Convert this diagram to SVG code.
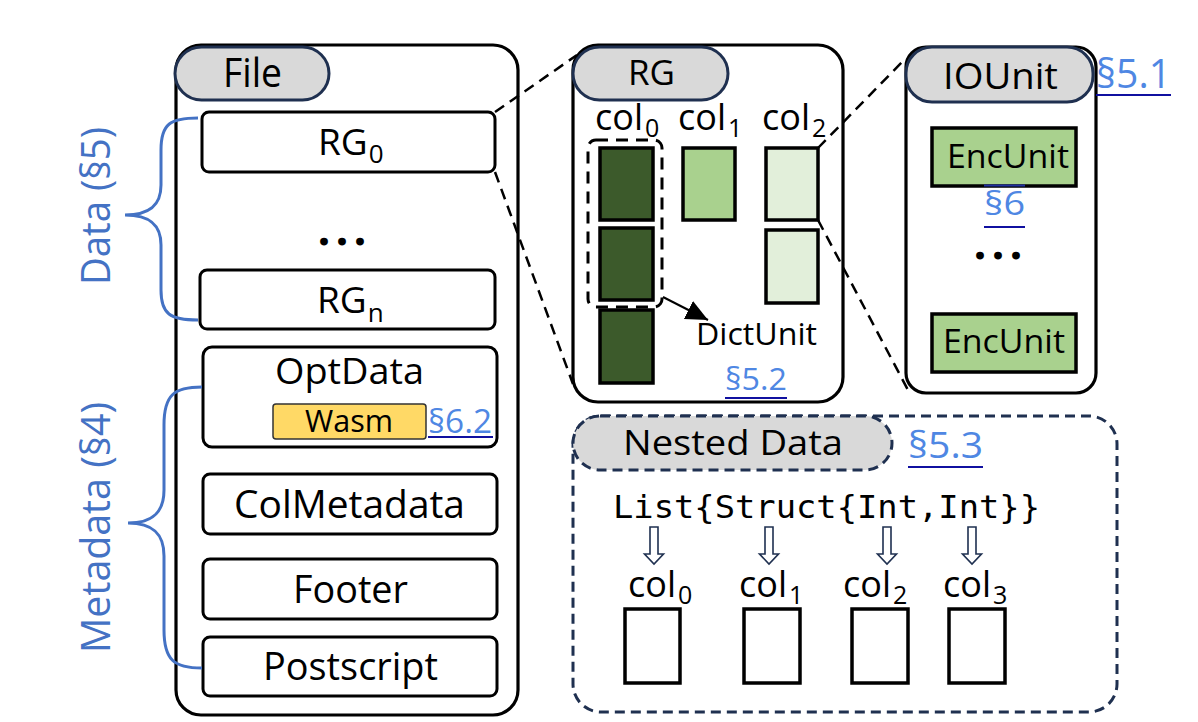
<svg xmlns="http://www.w3.org/2000/svg" width="1198" height="722" viewBox="0 0 1198 722">
<defs>
<style>
.t{font-family:"Open Sans","Noto Sans",sans-serif;fill:#000}
.dots{font-family:"Open Sans","Noto Sans",sans-serif;fill:#000;stroke:#000;stroke-width:3;font-weight:bold;font-size:28px;letter-spacing:10px}
.box{fill:#fff;stroke:#000;stroke-width:3}
.outer{fill:#fff;stroke:#000;stroke-width:3.2}
.pill{fill:#d9d9d9;stroke:#1f3050;stroke-width:3}
.dash{fill:none;stroke:#000;stroke-width:2.5;stroke-dasharray:11 7}
.link{font-family:"Open Sans","Noto Sans",sans-serif;fill:#4f87e3}
.ul{stroke:#1010a0;stroke-width:2}
.blue{fill:#4472c4;font-family:"Open Sans","Noto Sans",sans-serif}
.brace{fill:none;stroke:#4472c4;stroke-width:3}
.dk{fill:#3c5a2b;stroke:#000;stroke-width:3.5}
.md{fill:#a9d18e;stroke:#000;stroke-width:3.5}
.lt{fill:#e2efda;stroke:#000;stroke-width:3.5}
.col{fill:#fff;stroke:#000;stroke-width:3.5}
.harrow{fill:#fff;stroke:#1f3050;stroke-width:1.6}
</style>
<marker id="tri" markerUnits="userSpaceOnUse" markerWidth="24" markerHeight="22" refX="22" refY="10" orient="auto">
<path d="M0,0 L22,10 L0,20 Z" fill="#000"/>
</marker>
<path id="downArrow" d="M-4,0 H4 V27 H9.5 L0,37 L-9.5,27 H-4 Z"/>
</defs>

<g id="file">
<rect class="outer" x="176" y="45" width="342" height="670" rx="25"/>
<rect class="pill" x="175" y="47" width="154" height="53" rx="26.5"/>
<text class="t" x="223" y="87" font-size="40" textLength="59" lengthAdjust="spacingAndGlyphs">File</text>
</g>

<g id="rg0">
<rect class="box" x="202" y="112" width="293" height="60" rx="7"/>
<text class="t" x="318" y="155" font-size="37">RG<tspan font-size="26" dx="1" dy="8">0</tspan></text>
</g>
<g id="ellipsis-file">
<text class="dots" x="347" y="244" text-anchor="middle">...</text>
</g>
<g id="rgn">
<rect class="box" x="200" y="270" width="295" height="59" rx="7"/>
<text class="t" x="317" y="313" font-size="37">RG<tspan font-size="26" dx="1" dy="9">n</tspan></text>
</g>
<g id="optdata">
<rect class="box" x="203" y="347" width="294" height="100" rx="9"/>
<text class="t" x="275" y="384" font-size="37" textLength="149" lengthAdjust="spacingAndGlyphs">OptData</text>
<rect x="273" y="404" width="153" height="35" rx="3" fill="#ffd966" stroke="#333" stroke-width="1.5"/>
<text class="t" x="305" y="432" font-size="31" textLength="88" lengthAdjust="spacingAndGlyphs">Wasm</text>
<text class="link" x="428" y="433" font-size="32" textLength="64" lengthAdjust="spacingAndGlyphs">§6.2</text>
<line class="ul" x1="428" y1="437" x2="493" y2="437"/>
</g>
<g id="colmetadata">
<rect class="box" x="203" y="474" width="294" height="60" rx="7"/>
<text class="t" x="234" y="518" font-size="38" textLength="231" lengthAdjust="spacingAndGlyphs">ColMetadata</text>
</g>
<g id="footer">
<rect class="box" x="203" y="559" width="294" height="60" rx="7"/>
<text class="t" x="293" y="603" font-size="38" textLength="115" lengthAdjust="spacingAndGlyphs">Footer</text>
</g>
<g id="postscript">
<rect class="box" x="203" y="637" width="294" height="59" rx="7"/>
<text class="t" x="263" y="680" font-size="38" textLength="175" lengthAdjust="spacingAndGlyphs">Postscript</text>
</g>

<g id="data-brace">
<path class="brace" d="M198,118 C170,118 161,124 161,150 L161,185 C161,205 150,215 125,215 C150,215 161,225 161,245 L161,290 C161,314 170,320 198,320"/>
<text class="blue" transform="translate(110,285) rotate(-90)" font-size="40" textLength="158" lengthAdjust="spacingAndGlyphs">Data (§5)</text>
</g>
<g id="metadata-brace">
<path class="brace" d="M202,387 C174,387 164,395 164,425 L164,490 C164,512 153,523 128,523 C153,523 164,534 164,556 L164,630 C164,660 174,668 202,668"/>
<text class="blue" transform="translate(110,653) rotate(-90)" font-size="40" textLength="251" lengthAdjust="spacingAndGlyphs">Metadata (§4)</text>
</g>

<g id="rg">
<rect class="outer" x="573" y="45" width="270" height="357" rx="25"/>
<rect class="pill" x="573" y="47" width="155" height="53" rx="26.5"/>
<text class="t" x="628" y="85" font-size="35" textLength="47" lengthAdjust="spacingAndGlyphs">RG</text>
<text class="t" x="595" y="130" font-size="36">col<tspan font-size="25" dx="2" dy="7">0</tspan></text>
<text class="t" x="678" y="130" font-size="36">col<tspan font-size="25" dx="2" dy="7">1</tspan></text>
<text class="t" x="762" y="130" font-size="36">col<tspan font-size="25" dx="2" dy="7">2</tspan></text>
<rect class="dk" x="600" y="148" width="53" height="72"/>
<rect class="dk" x="600" y="228" width="53" height="72"/>
<rect class="dk" x="600" y="310" width="53" height="73"/>
<rect class="md" x="683" y="148" width="52" height="72"/>
<rect class="lt" x="766" y="148" width="52" height="72"/>
<rect class="lt" x="766" y="230" width="52" height="73"/>
<rect x="588" y="140" width="74" height="167" rx="8" fill="none" stroke="#000" stroke-width="3" stroke-dasharray="12 8"/>
<line x1="663" y1="297" x2="708" y2="320" stroke="#000" stroke-width="2" marker-end="url(#tri)"/>
<text class="t" x="696" y="345" font-size="31" textLength="121" lengthAdjust="spacingAndGlyphs">DictUnit</text>
<text class="link" x="725" y="390" font-size="31" textLength="62" lengthAdjust="spacingAndGlyphs">§5.2</text>
<line class="ul" x1="725" y1="398" x2="787" y2="398"/>
</g>

<g id="iounit">
<rect class="outer" x="906" y="47" width="190" height="346" rx="20"/>
<rect class="pill" x="906" y="47" width="187" height="55" rx="26"/>
<text class="t" x="943" y="89" font-size="36" textLength="115" lengthAdjust="spacingAndGlyphs">IOUnit</text>
<text class="link" x="1096" y="88" font-size="40" textLength="75" lengthAdjust="spacingAndGlyphs">§5.1</text>
<line class="ul" x1="1096" y1="95" x2="1171" y2="95"/>
<rect class="md" x="932" y="128" width="144" height="58"/>
<text class="t" x="947" y="168" font-size="32" textLength="122" lengthAdjust="spacingAndGlyphs">EncUnit</text>
<line x1="984" y1="185.5" x2="1025" y2="185.5" stroke="#2030a0" stroke-width="2"/>
<text class="link" x="984" y="215" font-size="33" textLength="41" lengthAdjust="spacingAndGlyphs">§6</text>
<line class="ul" x1="984" y1="227" x2="1025" y2="227"/>
<text class="dots" x="1003" y="258" text-anchor="middle">...</text>
<rect class="md" x="932" y="314" width="144" height="58"/>
<text class="t" x="943" y="353" font-size="32" textLength="122" lengthAdjust="spacingAndGlyphs">EncUnit</text>
</g>

<g id="nested">
<rect x="573" y="416" width="544" height="296" rx="28" fill="none" stroke="#1f3050" stroke-width="3" stroke-dasharray="10 6"/>
<rect x="573" y="416" width="319" height="54" rx="27" fill="#d9d9d9" stroke="#1f3050" stroke-width="3" stroke-dasharray="10 6"/>
<text class="t" x="623" y="455" font-size="35" textLength="220" lengthAdjust="spacingAndGlyphs">Nested Data</text>
<text class="link" x="908" y="458" font-size="37" textLength="75" lengthAdjust="spacingAndGlyphs">§5.3</text>
<line class="ul" x1="908" y1="467" x2="983" y2="467"/>
<text x="613" y="518" font-family="'DejaVu Sans Mono','Liberation Mono',monospace" font-size="32" textLength="427" lengthAdjust="spacingAndGlyphs">List{Struct{Int,Int}}</text>
<use href="#downArrow" class="harrow" x="654" y="527"/>
<use href="#downArrow" class="harrow" x="769" y="527"/>
<use href="#downArrow" class="harrow" x="887" y="527"/>
<use href="#downArrow" class="harrow" x="972" y="527"/>
<text class="t" x="628" y="597" font-size="36">col<tspan font-size="25" dx="2" dy="7">0</tspan></text>
<text class="t" x="739" y="597" font-size="36">col<tspan font-size="25" dx="2" dy="7">1</tspan></text>
<text class="t" x="843" y="597" font-size="36">col<tspan font-size="25" dx="2" dy="7">2</tspan></text>
<text class="t" x="943" y="597" font-size="36">col<tspan font-size="25" dx="2" dy="7">3</tspan></text>
<rect class="col" x="625" y="609" width="55" height="74"/>
<rect class="col" x="744" y="609" width="56" height="74"/>
<rect class="col" x="852" y="609" width="56" height="74"/>
<rect class="col" x="949" y="609" width="56" height="74"/>
</g>

<g id="connectors">
<line class="dash" x1="495" y1="112" x2="577" y2="55"/>
<line class="dash" x1="495" y1="172" x2="573" y2="384"/>
<line class="dash" x1="818" y1="148" x2="904" y2="60"/>
<line class="dash" x1="818" y1="220" x2="908" y2="390"/>
</g>
</svg>
